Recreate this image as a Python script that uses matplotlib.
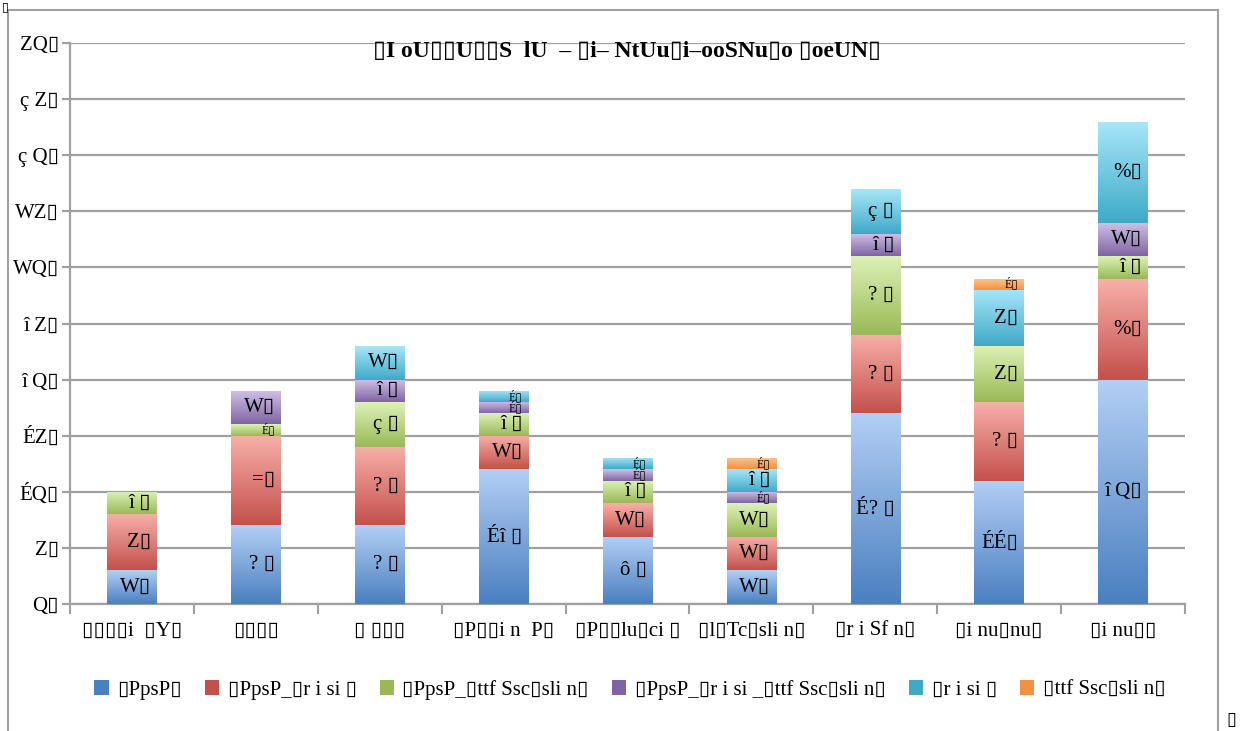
import matplotlib
matplotlib.use("Agg")
import matplotlib.pyplot as plt
import numpy as np
from matplotlib.colors import LinearSegmentedColormap
from matplotlib.patches import Rectangle, Patch
from matplotlib.ticker import FixedLocator, FuncFormatter

plt.rcParams["font.family"] = ["Liberation Serif", "DejaVu Sans"]

#%% data (text kept as shown in the reference, ▯ = missing glyph box)
categories = ["▯▯▯▯i  ▯Y▯", "▯▯▯▯", "▯ ▯▯▯", "▯P▯▯i n  P▯", "▯P▯▯lu▯ci ▯",
              "▯l▯Tc▯sli n▯", "▯r i Sf n▯", "▯i nu▯nu▯", "▯i nu▯▯"]
seriesNames = ["▯PpsP▯", "▯PpsP_▯r i si ▯", "▯PpsP_▯ttf Ssc▯sli n▯",
               "▯PpsP_▯r i si _▯ttf Ssc▯sli n▯", "▯r i si ▯", "▯ttf Ssc▯sli n▯"]
blue = [3, 7, 7, 12, 6, 3, 17, 11, 20]
red = [5, 8, 7, 3, 3, 3, 7, 7, 9]
green = [2, 1, 4, 2, 2, 3, 7, 5, 2]
purple = [0, 3, 2, 1, 1, 1, 2, 0, 3]
cyan = [0, 0, 3, 1, 1, 2, 4, 5, 9]
orange = [0, 0, 0, 0, 0, 1, 0, 1, 0]
title = "▯I oU▯▯U▯▯S  lU  – ▯i– NtUu▯i–ooSNu▯o ▯oeUN▯"
# digits as they appear in the garbled font
digitGlyphs = {"0": "Q", "1": "É", "2": "î ", "3": "W", "4": "ç ",
               "5": "Z", "6": "ô ", "7": "? ", "8": "=", "9": "%"}

# (top, bottom) gradient colours
gradients = [("#b3cff5", "#4a7fc0"), ("#f8b0aa", "#c4504b"),
             ("#ddf2b8", "#9ab955"), ("#d0c2e6", "#7f64a3"),
             ("#a8e6f8", "#3eaac8"), ("#ffc690", "#f49140")]


def glyph(v):
    return "".join(digitGlyphs[c] for c in str(int(v))) + "▯"


#%%
fig = plt.figure(figsize=(12.47, 7.31), dpi=100)
ax = fig.add_axes([70 / 1247, 1 - 604 / 731, (1185 - 70) / 1247, (604 - 43) / 731])

x = np.arange(len(categories))
width = 0.40
bottom = np.zeros(len(categories))
gradImg = np.linspace(0, 1, 256).reshape(-1, 1)
for vals, (cTop, cBot), name in zip([blue, red, green, purple, cyan, orange], gradients, seriesNames):
    vals = np.array(vals, dtype=float)
    bars = ax.bar(x, vals, width, bottom=bottom, color=cBot, linewidth=0, zorder=3, label=name)
    cmap = LinearSegmentedColormap.from_list("g", [cBot, cTop])
    for b, v, btm in zip(bars, vals, bottom):
        if v == 0:
            continue
        x0, y0 = b.get_x(), b.get_y()
        im = ax.imshow(gradImg, cmap=cmap, aspect="auto", origin="lower",
                       extent=[x0, x0 + width, y0, y0 + v], zorder=3.5,
                       interpolation="bilinear")
        im.set_clip_path(b)
        # thin one-unit segments get a smaller label so they do not collide
        ax.annotate(glyph(v), (x0 + width, y0 + v / 2), xytext=(-4, 0),
                    textcoords="offset points", ha="right", va="center",
                    fontsize=15 if v > 1 else 8.5, zorder=5)
    bottom = bottom + vals

ax.set_xlim(-0.5, len(categories) - 0.5)
ax.set_ylim(0, 50)
ax.set_yticks(np.arange(0, 51, 5))
ax.yaxis.set_major_formatter(FuncFormatter(lambda v, p: glyph(v)))
ax.set_xticks(x)
ax.set_xticklabels(categories, fontsize=15)
ax.xaxis.set_minor_locator(FixedLocator(np.arange(-0.5, len(categories), 1)))
ax.tick_params(axis="x", which="major", length=0, pad=13)
ax.tick_params(axis="x", which="minor", length=7, width=1.5, color="#a0a0a0")
ax.tick_params(axis="y", length=6, width=1.6, color="#a0a0a0", labelsize=15, pad=2)
ax.yaxis.grid(True, color="#a0a0a0", linewidth=1.6, zorder=0)
ax.set_axisbelow(True)
for s in ["top", "right"]:
    ax.spines[s].set_visible(False)
for s in ["left", "bottom"]:
    ax.spines[s].set_color("#a0a0a0")
    ax.spines[s].set_linewidth(1.6)

fig.text(0.503, 1 - 52 / 731, title, ha="center", va="center",
         fontsize=17, fontweight="bold")

handles = [Patch(facecolor=c[1], edgecolor="none") for c in gradients]
fig.legend(handles, seriesNames, loc="center", bbox_to_anchor=(0.505, 1 - 690 / 731),
           ncol=6, frameon=False, fontsize=15, handlelength=0.7, handleheight=0.7,
           handletextpad=0.4, columnspacing=1.1)

# outer chart frame
fig.patches.append(Rectangle((8 / 1247, -0.01), (1218 - 8) / 1247, 1 - 10 / 731 + 0.01,
                             transform=fig.transFigure, fill=False,
                             edgecolor="#a0a0a0", linewidth=1.5))
fig.text(2 / 1247, 1 - 1 / 731, "▯", ha="left", va="top", fontsize=9)
fig.text(1226 / 1247, 1 - 712 / 731, "▯", ha="left", va="top", fontsize=13)

fig.savefig("out.png", dpi=100)
